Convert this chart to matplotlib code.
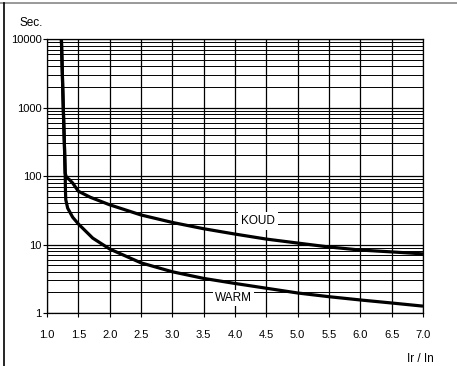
import matplotlib
matplotlib.use("Agg")
import matplotlib.pyplot as plt
import matplotlib.ticker as ticker
from matplotlib.lines import Line2D

plt.rcParams["font.family"] = ["Liberation Sans", "DejaVu Sans"]

koud_x = [1.23, 1.26, 1.28, 1.29, 1.31, 1.36, 1.41, 1.5, 1.69, 2.0, 2.5, 3.0,
          3.5, 4.0, 4.5, 5.0, 5.5, 6.0, 6.5, 7.0]
koud_y = [10000, 1000, 250, 110, 96, 88, 79, 60, 49, 38, 27, 21,
          17, 14.2, 12, 10.5, 9.2, 8.3, 7.8, 7.3]

warm_x = [1.23, 1.26, 1.28, 1.29, 1.295, 1.30, 1.33, 1.41, 1.5, 1.73, 2.0,
          2.5, 3.0, 3.5, 4.0, 4.5, 5.0, 5.5, 6.0, 6.5, 7.0]
warm_y = [10000, 1000, 250, 110, 60, 45, 34, 25, 20, 12.4, 8.6,
          5.4, 4.0, 3.2, 2.7, 2.3, 1.96, 1.73, 1.55, 1.4, 1.26]

x_ticks = [1.0, 1.5, 2.0, 2.5, 3.0, 3.5, 4.0, 4.5, 5.0, 5.5, 6.0, 6.5, 7.0]
y_ticks = [1, 10, 100, 1000, 10000]

# ── Plot ───────────────────────────────────────────────────────────────────
fig = plt.figure(figsize=(4.57, 3.66), dpi=100)
ax = fig.add_axes([0.1028, 0.1448, 0.8228, 0.7486])

ax.set_yscale("log")
ax.set_xlim(1.0, 7.0)
ax.set_ylim(1, 10000)

ax.plot(koud_x, koud_y, color="black", linewidth=2.3, solid_capstyle="butt", zorder=5)
ax.plot(warm_x, warm_y, color="black", linewidth=2.3, solid_capstyle="butt", zorder=5)

ax.set_xticks(x_ticks)
ax.set_xticklabels([f"{v:.1f}" for v in x_ticks])
ax.set_yticks(y_ticks)
ax.yaxis.set_major_formatter(ticker.FuncFormatter(lambda v, p: f"{v:g}"))
ax.yaxis.set_minor_locator(ticker.LogLocator(base=10, subs=range(2, 10)))
ax.yaxis.set_minor_formatter(ticker.NullFormatter())

ax.grid(True, which="major", color="black", linewidth=0.9)
ax.grid(True, which="minor", axis="y", color="black", linewidth=0.7)
ax.tick_params(which="major", direction="out", length=3, width=0.8,
               labelsize=8, color="black")
ax.tick_params(which="minor", length=0)
ax.tick_params(axis="x", pad=9)
ax.tick_params(axis="y", pad=1)

for s in ax.spines.values():
    s.set_linewidth(0.9)

ax.text(4.37, 22, "KOUD", fontsize=8.5, ha="center", va="center", zorder=3,
        bbox=dict(facecolor="white", edgecolor="none", pad=2))
ax.text(3.98, 1.66, "WARM", fontsize=8.5, ha="center", va="center", zorder=3,
        bbox=dict(facecolor="white", edgecolor="none", pad=1.5))

fig.text(31 / 457, 1 - 23 / 366, "Sec.", fontsize=8.5, ha="center", va="center")
fig.text(420 / 457, 1 - 359 / 366, "Ir / In", fontsize=8.5, ha="center", va="center")

# scan frame: gray top edge and black left edge
fig.add_artist(Line2D([0, 1], [1 - 3 / 366] * 2, color="#888888", linewidth=1.2))
fig.add_artist(Line2D([4 / 457] * 2, [0, 1 - 3 / 366], color="black", linewidth=1.2))

plt.savefig("out.png", dpi=100)
plt.close()
